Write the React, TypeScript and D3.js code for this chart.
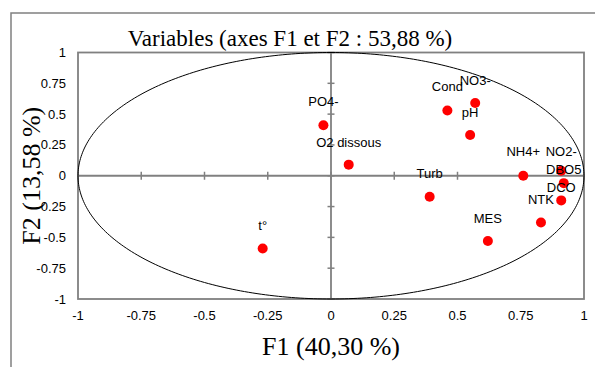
import React from 'react';
import * as d3 from 'd3';

// PCA loadings on F1 / F2
const variables = ['t°', 'PO4-', 'O2 dissous', 'Cond', 'NO3-', 'pH', 'Turb', 'MES', 'NH4+', 'NO2-', 'DBO5', 'DCO', 'NTK'];
const f1Values = [-0.27, -0.03, 0.07, 0.46, 0.57, 0.55, 0.39, 0.62, 0.76, 0.91, 0.92, 0.91, 0.83];
const f2Values = [-0.59, 0.41, 0.09, 0.53, 0.59, 0.33, -0.17, -0.53, 0.0, 0.04, -0.06, -0.2, -0.38];
// label lift above the point (px), XLSTAT nudges a few in the crowded corner
const labelLift = [18, 19, 18, 19, 18, 18, 19, 18, 20, 15, 9, 8, 19];

const tickValues = [-1, -0.75, -0.5, -0.25, 0, 0.25, 0.5, 0.75, 1];

const W = 595;
const H = 367;
const GRAY = '#808080';

const App: React.FC = () => {
  const x = d3.scaleLinear().domain([-1, 1]).range([78, 584]);
  const y = d3.scaleLinear().domain([-1, 1]).range([299, 52.5]);

  // unit circle drawn in data space
  const circle = d3
    .line<number>()
    .x((a) => x(Math.cos(a)))
    .y((a) => y(Math.sin(a)))
    .curve(d3.curveLinearClosed)(d3.range(0, 2 * Math.PI, Math.PI / 180));

  const sans = '"Liberation Sans", Arial, sans-serif';
  const serif = '"Liberation Serif", "Times New Roman", serif';

  return (
    <svg width={W} height={H} style={{position: 'absolute', left: 0, top: 0, background: '#fff'}}>
      <rect x={11} y={13} width={700} height={500} fill="none" stroke={GRAY} strokeWidth={1.5} />

      <text x={290} y={46} textAnchor="middle" fontFamily={serif} fontSize={23}>
        Variables (axes F1 et F2 : 53,88 %)
      </text>

      <rect x={x(-1)} y={y(1)} width={x(1) - x(-1)} height={y(-1) - y(1)} fill="none" stroke={GRAY} strokeWidth={1.8} />

      {/* axes through the origin */}
      <line x1={x(-1)} x2={x(1)} y1={y(0)} y2={y(0)} stroke={GRAY} strokeWidth={1.8} />
      <line x1={x(0)} x2={x(0)} y1={y(1)} y2={y(-1)} stroke={GRAY} strokeWidth={1.8} />
      {tickValues.map((t) => (
        <g key={'t' + t}>
          <line x1={x(t)} x2={x(t)} y1={y(0) - 4} y2={y(0) + 4} stroke={GRAY} strokeWidth={1.5} />
          <line x1={x(0) - 3.5} x2={x(0) + 3.5} y1={y(t)} y2={y(t)} stroke={GRAY} strokeWidth={1.5} />
          <text x={x(t)} y={320} textAnchor="middle" fontFamily={sans} fontSize={13}>
            {t}
          </text>
          <text x={66} y={y(t)} dy="0.35em" textAnchor="end" fontFamily={sans} fontSize={13}>
            {t}
          </text>
        </g>
      ))}

      <path d={circle ?? ''} fill="none" stroke="#000" strokeWidth={1} />

      {variables.map((v, i) => (
        <g key={v}>
          <circle cx={x(f1Values[i])} cy={y(f2Values[i])} r={5} fill="#ff0000" />
          <text
            x={x(f1Values[i])}
            y={y(f2Values[i]) - labelLift[i]}
            textAnchor="middle"
            fontFamily={sans}
            fontSize={13}
          >
            {v}
          </text>
        </g>
      ))}

      <text x={331} y={355} textAnchor="middle" fontFamily={serif} fontSize={26}>
        F1 (40,30 %)
      </text>
      <text
        transform={`translate(40,${y(0)}) rotate(-90)`}
        textAnchor="middle"
        fontFamily={serif}
        fontSize={26}
      >
        F2 (13,58 %)
      </text>
    </svg>
  );
};

export default App;
